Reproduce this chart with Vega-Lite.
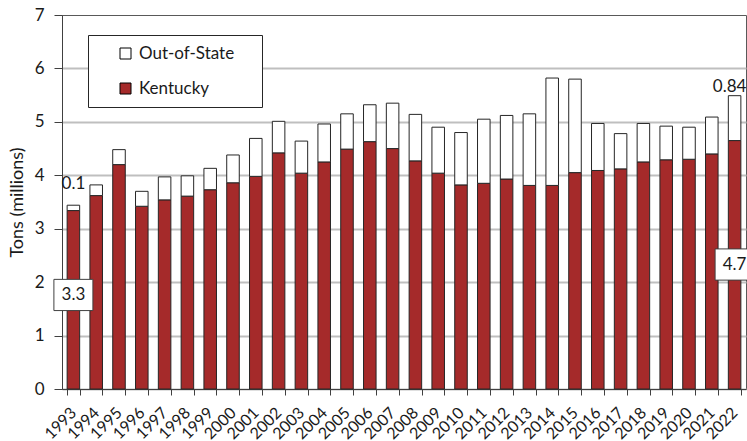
{
  "$schema": "https://vega.github.io/schema/vega-lite/v6.json",
  "width": 684,
  "height": 374,
  "autosize": {"type": "none"},
  "padding": {"left": 62, "top": 15, "right": 1, "bottom": 52},
  "datasets": {
    "tons": [
      {"year": "1993", "source": "Kentucky", "tons": 3.34}, {"year": "1993", "source": "Out-of-State", "tons": 0.10},
      {"year": "1994", "source": "Kentucky", "tons": 3.62}, {"year": "1994", "source": "Out-of-State", "tons": 0.20},
      {"year": "1995", "source": "Kentucky", "tons": 4.20}, {"year": "1995", "source": "Out-of-State", "tons": 0.28},
      {"year": "1996", "source": "Kentucky", "tons": 3.42}, {"year": "1996", "source": "Out-of-State", "tons": 0.28},
      {"year": "1997", "source": "Kentucky", "tons": 3.54}, {"year": "1997", "source": "Out-of-State", "tons": 0.43},
      {"year": "1998", "source": "Kentucky", "tons": 3.61}, {"year": "1998", "source": "Out-of-State", "tons": 0.38},
      {"year": "1999", "source": "Kentucky", "tons": 3.73}, {"year": "1999", "source": "Out-of-State", "tons": 0.40},
      {"year": "2000", "source": "Kentucky", "tons": 3.86}, {"year": "2000", "source": "Out-of-State", "tons": 0.52},
      {"year": "2001", "source": "Kentucky", "tons": 3.98}, {"year": "2001", "source": "Out-of-State", "tons": 0.71},
      {"year": "2002", "source": "Kentucky", "tons": 4.42}, {"year": "2002", "source": "Out-of-State", "tons": 0.59},
      {"year": "2003", "source": "Kentucky", "tons": 4.04}, {"year": "2003", "source": "Out-of-State", "tons": 0.60},
      {"year": "2004", "source": "Kentucky", "tons": 4.25}, {"year": "2004", "source": "Out-of-State", "tons": 0.71},
      {"year": "2005", "source": "Kentucky", "tons": 4.49}, {"year": "2005", "source": "Out-of-State", "tons": 0.66},
      {"year": "2006", "source": "Kentucky", "tons": 4.63}, {"year": "2006", "source": "Out-of-State", "tons": 0.69},
      {"year": "2007", "source": "Kentucky", "tons": 4.50}, {"year": "2007", "source": "Out-of-State", "tons": 0.85},
      {"year": "2008", "source": "Kentucky", "tons": 4.27}, {"year": "2008", "source": "Out-of-State", "tons": 0.87},
      {"year": "2009", "source": "Kentucky", "tons": 4.04}, {"year": "2009", "source": "Out-of-State", "tons": 0.86},
      {"year": "2010", "source": "Kentucky", "tons": 3.82}, {"year": "2010", "source": "Out-of-State", "tons": 0.98},
      {"year": "2011", "source": "Kentucky", "tons": 3.85}, {"year": "2011", "source": "Out-of-State", "tons": 1.20},
      {"year": "2012", "source": "Kentucky", "tons": 3.93}, {"year": "2012", "source": "Out-of-State", "tons": 1.19},
      {"year": "2013", "source": "Kentucky", "tons": 3.81}, {"year": "2013", "source": "Out-of-State", "tons": 1.34},
      {"year": "2014", "source": "Kentucky", "tons": 3.81}, {"year": "2014", "source": "Out-of-State", "tons": 2.01},
      {"year": "2015", "source": "Kentucky", "tons": 4.05}, {"year": "2015", "source": "Out-of-State", "tons": 1.75},
      {"year": "2016", "source": "Kentucky", "tons": 4.09}, {"year": "2016", "source": "Out-of-State", "tons": 0.88},
      {"year": "2017", "source": "Kentucky", "tons": 4.12}, {"year": "2017", "source": "Out-of-State", "tons": 0.66},
      {"year": "2018", "source": "Kentucky", "tons": 4.25}, {"year": "2018", "source": "Out-of-State", "tons": 0.72},
      {"year": "2019", "source": "Kentucky", "tons": 4.29}, {"year": "2019", "source": "Out-of-State", "tons": 0.63},
      {"year": "2020", "source": "Kentucky", "tons": 4.30}, {"year": "2020", "source": "Out-of-State", "tons": 0.60},
      {"year": "2021", "source": "Kentucky", "tons": 4.40}, {"year": "2021", "source": "Out-of-State", "tons": 0.69},
      {"year": "2022", "source": "Kentucky", "tons": 4.65}, {"year": "2022", "source": "Out-of-State", "tons": 0.84}
    ],
    "topLabels": [
      {"year": "1993", "pos": 3.83, "label": "0.1"},
      {"year": "2022", "pos": 5.65, "label": "0.84"}
    ],
    "boxLabels": [
      {"year": "1993", "pos": 1.76, "label": "3.3"},
      {"year": "2022", "pos": 2.33, "label": "4.7"}
    ]
  },
  "encoding": {
    "x": {
      "field": "year",
      "type": "ordinal",
      "title": null,
      "scale": {"paddingInner": 0.45, "paddingOuter": 0.225},
      "axis": {
        "labelAngle": -45,
        "labelAlign": "right",
        "labelBaseline": "middle",
        "labelPadding": 15,
        "labelFont": "Lato",
        "labelFontSize": 16,
        "labelColor": "#1a1a1a",
        "tickBand": "extent",
        "tickSize": 6,
        "tickColor": "#404040",
        "domainColor": "#404040",
        "grid": false
      }
    }
  },
  "layer": [
    {
      "data": {"name": "tons"},
      "mark": {"type": "bar", "stroke": "#262626", "strokeWidth": 1},
      "encoding": {
        "y": {
          "field": "tons",
          "type": "quantitative",
          "aggregate": "sum",
          "stack": "zero",
          "title": "Tons (millions)",
          "scale": {"domain": [0, 7], "nice": false},
          "axis": {
            "values": [0, 1, 2, 3, 4, 5, 6, 7],
            "format": "d",
            "labelFont": "Lato",
            "labelFontSize": 17,
            "labelColor": "#1a1a1a",
            "labelPadding": 10,
            "tickSize": 8,
            "tickColor": "#404040",
            "domainColor": "#404040",
            "gridColor": {"condition": {"test": "datum.value == 7", "value": "transparent"}, "value": "#BFBFBF"},
            "gridWidth": 2,
            "titleFont": "Lato",
            "titleFontSize": 18,
            "titleFontWeight": "normal",
            "titleColor": "#1a1a1a",
            "titlePadding": 8
          }
        },
        "color": {
          "field": "source",
          "type": "nominal",
          "scale": {"domain": ["Out-of-State", "Kentucky"], "range": ["#FFFFFF", "#A52A2A"]},
          "legend": {
            "orient": "none",
            "legendX": 26,
            "legendY": 20,
            "title": null,
            "padding": 10,
            "strokeColor": "#262626",
            "fillColor": "white",
            "symbolType": "square",
            "symbolSize": 121,
            "symbolStrokeColor": "#000000",
            "symbolStrokeWidth": 1,
            "symbolOffset": 19,
            "labelOffset": 5,
            "rowPadding": 17,
            "labelFont": "Lato",
            "labelFontSize": 17,
            "labelColor": "#1a1a1a",
            "labelExpr": "datum.label + '    \u200b'"
          }
        },
        "order": {"field": "source", "sort": "ascending"}
      }
    },
    {
      "data": {"name": "topLabels"},
      "transform": [{"filter": "datum.year == '1993'"}],
      "mark": {"type": "text", "font": "Lato", "fontSize": 17, "color": "#1a1a1a", "baseline": "middle", "align": "center"},
      "encoding": {
        "y": {"field": "pos", "type": "quantitative"},
        "text": {"field": "label"}
      }
    },
    {
      "data": {"name": "topLabels"},
      "transform": [{"filter": "datum.year == '2022'"}],
      "mark": {"type": "text", "font": "Lato", "fontSize": 17, "color": "#1a1a1a", "baseline": "middle", "align": "center", "dx": -5},
      "encoding": {
        "y": {"field": "pos", "type": "quantitative"},
        "text": {"field": "label"}
      }
    },
    {
      "data": {"name": "boxLabels"},
      "mark": {"type": "point", "shape": "M-1.5,-1.2H1.5V1.2H-1.5Z", "size": 676, "filled": true, "fill": "white", "fillOpacity": 1, "opacity": 1, "stroke": "#404040", "strokeWidth": 1},
      "encoding": {
        "y": {"field": "pos", "type": "quantitative"}
      }
    },
    {
      "data": {"name": "boxLabels"},
      "mark": {"type": "text", "font": "Lato", "fontSize": 17, "color": "#1a1a1a", "baseline": "middle", "align": "center"},
      "encoding": {
        "y": {"field": "pos", "type": "quantitative"},
        "text": {"field": "label"}
      }
    }
  ],
  "config": {
    "view": {"stroke": "#595959", "strokeWidth": 1}
  }
}
